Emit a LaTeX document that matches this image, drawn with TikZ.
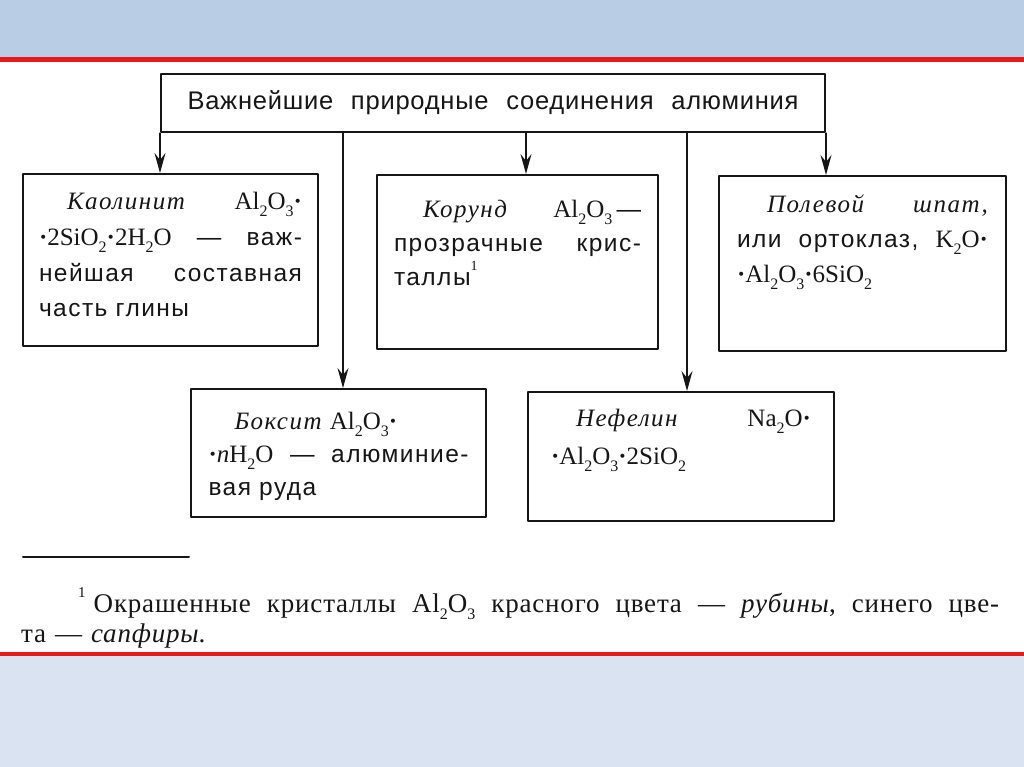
\documentclass[tikz,border=0pt]{standalone}
\usepackage{fontspec}
\setmainfont{Liberation Sans}[LetterSpace=6]
\newfontfamily\headfont{Liberation Sans}[LetterSpace=3]
\newfontfamily\chemfont{Liberation Serif}
\newfontfamily\namefont{Liberation Serif}[LetterSpace=6]
\newfontfamily\notefont{Liberation Serif}[LetterSpace=3]
\usetikzlibrary{arrows.meta}
\definecolor{slideblue}{HTML}{B9CDE5}
\definecolor{slidepale}{HTML}{D9E3F1}
\definecolor{slidered}{HTML}{E51A1A}
\definecolor{printink}{HTML}{161616}
\newcommand\ch[1]{{\chemfont\fontsize{25pt}{30pt}\selectfont #1}}
\newcommand\sub[1]{\raisebox{-0.28em}{\fontsize{16pt}{16pt}\selectfont #1}}
\newcommand\md{{\bfseries ·}}
\newcommand\nm[1]{{\namefont\itshape\fontsize{25pt}{30pt}\selectfont #1}}
\newcommand\orefont[1]{\fontsize{24.5pt}{#1pt}\selectfont}
\tikzset{
every picture/.style={line cap=round,line join=round},
ore box/.style={draw=printink, line width=2pt, anchor=north west, align=left, inner xsep=0pt, inner ysep=0pt, text=printink},
head box/.style={draw=printink, line width=2pt, anchor=north west, inner sep=0pt, minimum width=664pt, minimum height=58pt, font=\headfont\fontsize{25.5pt}{28pt}\selectfont, text=printink},
ore flow/.style={draw=printink, line width=1.3pt, -{Stealth[length=20pt,width=11pt,inset=7pt]}},
note rule/.style={draw=printink, line width=2pt},
note text/.style={anchor=base west, align=left, text width=978pt, inner sep=0pt, font=\notefont\fontsize{27pt}{30pt}\selectfont, text=printink}
}
\begin{document}
\begin{tikzpicture}[x=1pt,y=-1pt]
\useasboundingbox (0,0) rectangle (1024,767);
\fill[white] (0,0) rectangle (1024,767);
\fill[slideblue] (0,0) rectangle (1024,57);
\fill[slidered] (0,57) rectangle (1024,62);
\fill[slidepale] (0,656) rectangle (1024,767);
\fill[slidered] (0,651.5) rectangle (1024,656);

\node[head box] (title) at (160,73) {\makebox[611pt][s]{Важнейшие природные соединения алюминия}};

\node[ore box, minimum width=295pt, text width=263pt, text height=36pt, text depth=136pt, font=\orefont{35.5}] (kaolin) at (22,173) {\hspace*{28pt}\nm{Каолинит}\hfill\ch{Al\sub2O\sub3\md}\\ \ch{\md2SiO\sub2\md2H\sub2O}\hfill—\hfill важ-\\ нейшая\hfill составная\\ часть глины};
\node[ore box, minimum width=281pt, text width=247pt, text height=43pt, text depth=131pt, font=\orefont{34}] (korund) at (376,174) {\hspace*{29pt}\nm{Корунд}\hfill\ch{Al\sub2O\sub3}\,—\\ прозрачные\hfill крис-\\ таллы\ch{\raisebox{0.62em}{\fontsize{14pt}{14pt}\selectfont 1}}};
\node[ore box, minimum width=287pt, text width=251pt, text height=37pt, text depth=138pt, font=\orefont{35}] (feldspar) at (718,175) {\hspace*{30pt}\nm{Полевой}\hfill\nm{шпат,}\\ или\hfill ортоклаз,\hfill\ch{K\sub2O\md}\\ \ch{\md Al\sub2O\sub3\md6SiO\sub2}};
\node[ore box, minimum width=295pt, text width=260pt, text height=40pt, text depth=88pt, font=\orefont{33}] (bauxite) at (190,388) {\hspace*{26pt}\nm{Боксит} \ch{Al\sub2O\sub3\md}\\ \ch{\md{\itshape n}H\sub2O}\hfill—\hfill алюминие-\\ вая руда};
\node[ore box, minimum width=306pt, text width=260pt, text height=34pt, text depth=95pt, font=\orefont{38}] (nepheline) at (527,391) {\hspace*{25pt}\nm{Нефелин}\hfill\ch{Na\sub2O\md}\\ \ch{\md Al\sub2O\sub3\md2SiO\sub2}};

\coordinate (tap1) at ([xshift=183pt]title.south west);
\coordinate (tap2) at ([xshift=366pt]title.south west);
\coordinate (tap3) at ([xshift=527pt]title.south west);
\draw[ore flow] (title.south west) -- (title.south west |- kaolin.north);
\draw[ore flow] (tap1) -- (tap1 |- bauxite.north);
\draw[ore flow] (tap2) -- (tap2 |- korund.north);
\draw[ore flow] (tap3) -- (tap3 |- nepheline.north);
\draw[ore flow] (title.south east) -- (title.south east |- feldspar.north);

\draw[note rule] (23,557) -- (189,557);
\node[note text] (note) at (21,612) {\hspace*{57pt}\raisebox{0.55em}{\fontsize{15pt}{15pt}\selectfont 1}\hspace{8pt}Окрашенные\hfill кристаллы\hfill {\fontsize{27pt}{30pt}\selectfont Al\sub2O\sub3}\hfill красного\hfill цвета\hfill —\hfill {\itshape рубины},\hfill синего\hfill цве-\\ та — {\itshape сапфиры}.};
\end{tikzpicture}
\end{document}
